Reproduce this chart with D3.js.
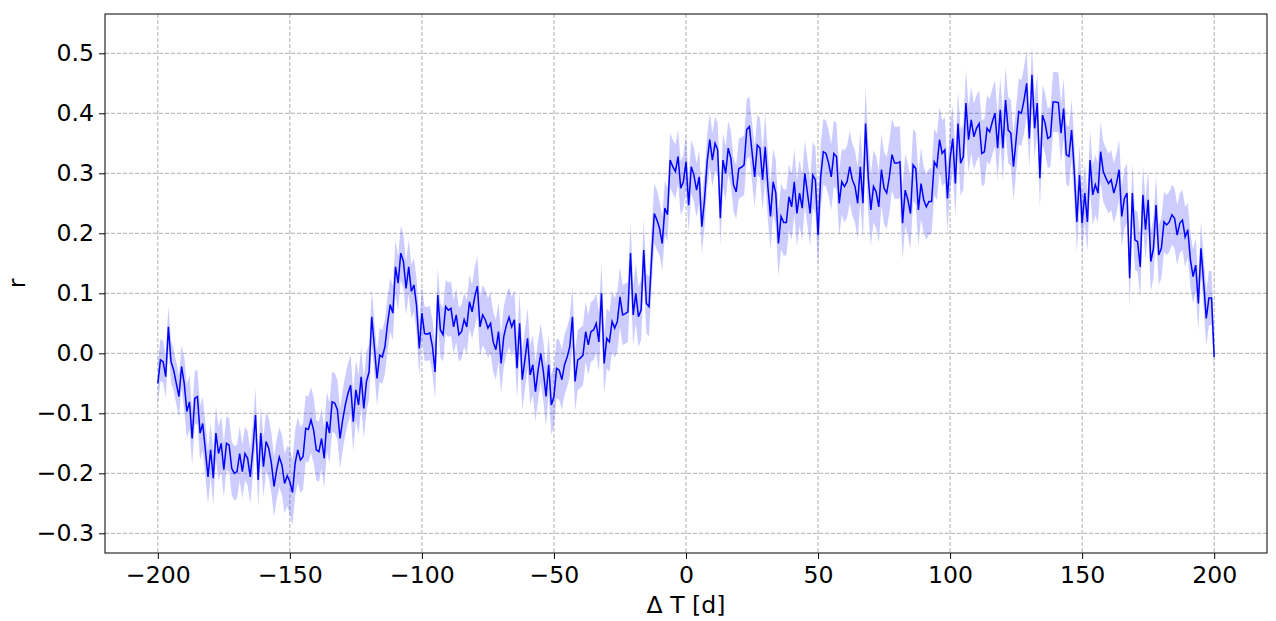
<!DOCTYPE html>
<html><head><meta charset="utf-8">
<script src="https://d3js.org/d3.v7.min.js"></script>
<style>body{margin:0;background:#fff}svg{display:block;font-family:"DejaVu Sans",sans-serif}</style>
</head><body><svg id="c" width="1276" height="621"></svg>
<script>
const dayStart = -200, dayEnd = 200;
const rValues = [
-0.05,-0.011,-0.014,-0.039,0.044,-0.014,-0.028,-0.05,-0.072,-0.022,
-0.05,-0.097,-0.081,-0.142,-0.075,-0.072,-0.133,-0.117,-0.161,-0.206,
-0.161,-0.208,-0.133,-0.167,-0.15,-0.194,-0.15,-0.153,-0.192,-0.2,
-0.197,-0.167,-0.197,-0.167,-0.175,-0.206,-0.16,-0.103,-0.211,-0.133,
-0.189,-0.147,-0.158,-0.183,-0.222,-0.194,-0.173,-0.186,-0.217,-0.204,
-0.214,-0.232,-0.183,-0.161,-0.178,-0.172,-0.125,-0.127,-0.111,-0.128,
-0.161,-0.164,-0.142,-0.175,-0.114,-0.133,-0.081,-0.083,-0.094,-0.142,
-0.111,-0.086,-0.067,-0.053,-0.114,-0.061,-0.086,-0.039,-0.092,-0.047,
-0.031,0.061,0.011,-0.042,-0.003,-0.006,0.011,0.05,0.081,0.067,
0.144,0.117,0.167,0.153,0.108,0.144,0.103,0.114,0.078,0.008,
0.067,0.033,0.032,0.034,0.011,-0.031,0.097,0.039,0.031,0.078,
0.072,0.075,0.044,0.064,0.031,0.036,0.056,0.044,0.086,0.069,
0.094,0.112,0.044,0.064,0.056,0.042,0.05,0.019,0.006,0.036,
-0.017,0.028,0.047,0.06,0.044,0.056,-0.025,0.05,-0.044,-0.011,
0.025,-0.036,-0.019,-0.064,-0.028,0,-0.031,-0.072,-0.019,-0.086,
-0.072,-0.025,-0.028,-0.044,-0.019,-0.006,0.011,0.061,-0.047,-0.011,
-0.008,-0.003,0.036,0.014,0.036,0.039,0.05,0.019,0.1,-0.017,
0.025,0.019,0.053,0.042,0.053,0.094,0.064,0.066,0.069,0.167,
0.064,0.1,0.061,0.072,0.172,0.083,0.078,0.161,0.233,0.222,
0.208,0.183,0.242,0.231,0.322,0.311,0.303,0.328,0.275,0.286,
0.319,0.247,0.311,0.297,0.272,0.294,0.211,0.256,0.319,0.356,
0.322,0.35,0.339,0.225,0.322,0.3,0.342,0.325,0.281,0.269,
0.308,0.31,0.314,0.373,0.378,0.336,0.294,0.347,0.342,0.289,
0.344,0.278,0.228,0.286,0.267,0.183,0.228,0.218,0.218,0.261,
0.244,0.286,0.233,0.267,0.242,0.3,0.267,0.233,0.297,0.289,
0.197,0.294,0.336,0.333,0.317,0.294,0.333,0.328,0.25,0.286,
0.278,0.286,0.311,0.289,0.278,0.25,0.311,0.25,0.383,0.294,
0.239,0.278,0.269,0.244,0.306,0.275,0.267,0.294,0.331,0.317,
0.317,0.319,0.217,0.272,0.256,0.233,0.314,0.308,0.239,0.283,
0.256,0.244,0.253,0.253,0.319,0.311,0.356,0.333,0.339,0.258,
0.325,0.358,0.283,0.383,0.317,0.328,0.417,0.356,0.389,0.361,
0.375,0.383,0.333,0.336,0.375,0.369,0.386,0.4,0.342,0.406,
0.342,0.422,0.372,0.367,0.311,0.356,0.403,0.4,0.422,0.45,
0.358,0.464,0.375,0.417,0.292,0.397,0.383,0.358,0.361,0.419,
0.419,0.418,0.367,0.408,0.331,0.328,0.372,0.306,0.219,0.297,
0.217,0.267,0.219,0.322,0.264,0.281,0.267,0.336,0.303,0.292,
0.283,0.289,0.267,0.283,0.306,0.228,0.258,0.267,0.125,0.267,
0.189,0.186,0.144,0.264,0.206,0.256,0.153,0.175,0.247,0.164,
0.175,0.219,0.214,0.219,0.231,0.225,0.197,0.217,0.222,0.194,
0.206,0.156,0.128,0.147,0.083,0.175,0.119,0.058,0.092,0.092,
-0.006
];
// band half-width per 10-day block
const bandErr = [0.035,0.045,0.045,0.045,0.05,0.055,0.05,0.05,0.045,0.045,
0.045,0.045,0.05,0.05,0.05,0.05,0.05,0.05,0.05,0.045,
0.045,0.045,0.05,0.055,0.055,0.055,0.06,0.06,0.06,0.055,
0.055,0.055,0.055,0.05,0.05,0.05,0.05,0.05,0.05,0.045,0.025];
const xTicks = [-200,-150,-100,-50,0,50,100,150,200];
const yTicks = [-0.3,-0.2,-0.1,0.0,0.1,0.2,0.3,0.4,0.5];
const xLabel = "Δ T [d]", yLabel = "r";

const data = rValues.map((v,i)=>({d: dayStart+i, r: v, e: bandErr[Math.floor(i/10)]}));

const L=105, R=1267, T=14, B=553;
const FS = 23.6;
const svg = d3.select("#c");
const x = d3.scaleLinear().domain([-220,220]).range([L,R]);
const y = d3.scaleLinear().domain([-0.3328,0.5655]).range([B,T]);
const fmt = v => (v<0?"\u2212":"") + Math.abs(v).toFixed(1);
const fmtX = v => (v<0?"\u2212":"") + Math.abs(v);

// grid
const g = svg.append("g");
g.selectAll(".gx").data(xTicks).join("line")
 .attr("x1",d=>x(d)).attr("x2",d=>x(d)).attr("y1",T).attr("y2",B)
 .attr("stroke","#b0b0b0").attr("stroke-width",1).attr("stroke-dasharray","4,2");
g.selectAll(".gy").data(yTicks).join("line")
 .attr("y1",d=>y(d)).attr("y2",d=>y(d)).attr("x1",L).attr("x2",R)
 .attr("stroke","#b0b0b0").attr("stroke-width",1).attr("stroke-dasharray","4,2");

// band
svg.append("path").datum(data)
 .attr("d", d3.area().x(d=>x(d.d)).y0(d=>y(d.r-d.e)).y1(d=>y(d.r+d.e)))
 .attr("fill","#0000ff").attr("fill-opacity",0.2).attr("stroke","none");
// line
svg.append("path").datum(data)
 .attr("d", d3.line().x(d=>x(d.d)).y(d=>y(d.r)))
 .attr("fill","none").attr("stroke","#0000ff").attr("stroke-width",1.5);

// axes
const ax = svg.append("g").attr("transform",`translate(0,${B})`)
 .call(d3.axisBottom(x).tickValues(xTicks).tickFormat(fmtX).tickSize(6).tickPadding(7));
const ay = svg.append("g").attr("transform",`translate(${L},0)`)
 .call(d3.axisLeft(y).tickValues(yTicks).tickFormat(fmt).tickSize(6).tickPadding(5));
[ax,ay].forEach(a=>{
  a.select(".domain").remove();
  a.selectAll("text").attr("font-size",FS).attr("font-family","DejaVu Sans").attr("fill","#000");
  a.selectAll("line").attr("stroke","#000");
});
svg.append("rect").attr("x",L).attr("y",T).attr("width",R-L).attr("height",B-T)
 .attr("fill","none").attr("stroke","#000").attr("stroke-width",1);

svg.append("text").attr("x",(L+R)/2).attr("y",613).attr("text-anchor","middle")
 .attr("font-size",FS).text(xLabel);
svg.append("text").attr("transform",`translate(25,${(T+B)/2}) rotate(-90)`)
 .attr("text-anchor","middle").attr("font-size",FS).text(yLabel);
</script></body></html>
